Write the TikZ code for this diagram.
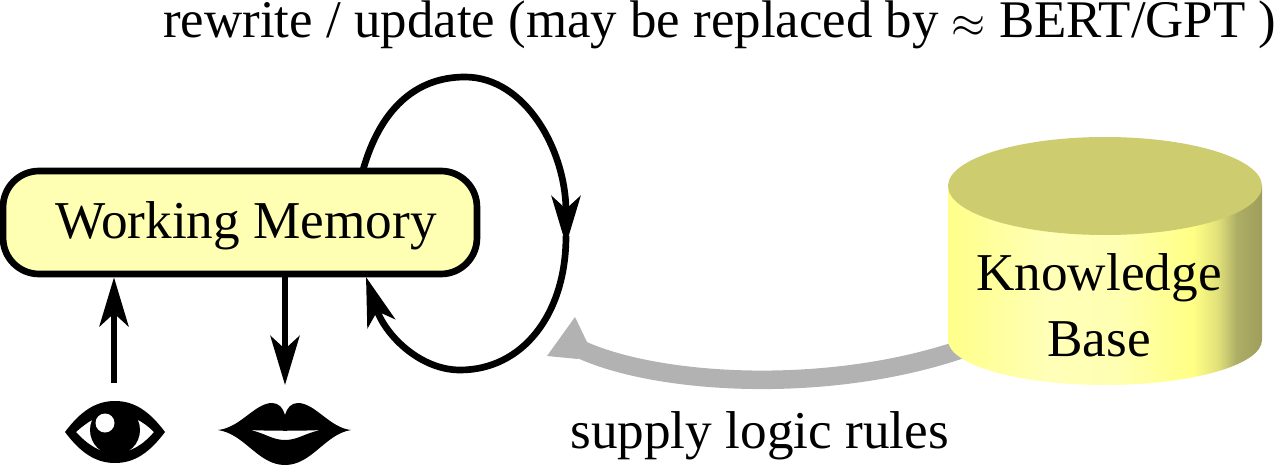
\documentclass[tikz,border=0pt]{standalone}
\usepackage{fontspec}
\setmainfont{Liberation Serif}
\usetikzlibrary{arrows.meta,backgrounds}

\definecolor{wmfill}{RGB}{255,255,180}
\definecolor{kbtopfill}{RGB}{205,205,112}
\definecolor{supplygray}{RGB}{178,178,178}
\pgfdeclarehorizontalshading{kbbody}{100bp}{
    rgb(0bp)=(1,1,.54);
    rgb(25bp)=(1,1,.54);
    rgb(29bp)=(1,1,.58);
    rgb(41bp)=(1,1,.72);
    rgb(52bp)=(1,1,.70);
    rgb(64bp)=(1,1,.52);
    rgb(68bp)=(.88,.88,.48);
    rgb(71bp)=(.68,.68,.40);
    rgb(75bp)=(.62,.62,.36);
    rgb(100bp)=(.62,.62,.36)}

\begin{document}
\begin{tikzpicture}[
            x=0.02cm, y=-0.02cm,
            txt/.style={font=\fontsize{30.3}{37.4}\selectfont, inner sep=0pt},
            toptxt/.style={font=\fontsize{30.1}{37.4}\selectfont, inner sep=0pt},
            wmbox/.style={draw, line width=3.8pt, fill=wmfill, rounded corners=0.72cm,
                minimum width=9.48cm, minimum height=2.06cm, inner sep=0pt},
            kbcyl/.style={minimum width=6.28cm, minimum height=4.98cm, inner sep=0pt, outer sep=0pt},
            sense/.style={inner sep=0pt, outer sep=0.36cm},
            flow/.style={line width=3.8pt, -{Stealth[length=0.98cm, width=0.58cm, inset=0.26cm]}},
            supply/.style={supplygray}
        ]
        \useasboundingbox (0,0) rectangle (1277,466);
        \node[wmbox, txt] (wm) at (240,222.5) {};
        \node[txt, anchor=base] (wmlabel) at (246,238) {Working Memory};
        \node[kbcyl] (kb) at (1105,260.5) {};
        \shade[shading=kbbody] (948,185) -- (948,340) arc [start angle=180, end angle=360, x radius=157, y radius=-45]
            -- (1262,185) -- cycle;
        \fill[kbtopfill] (1105,186) ellipse [x radius=157, y radius=49];
        \node[txt, align=center] (kblabel) at (1099,305) {Knowledge\\Base};
        \node[toptxt, anchor=base west] (rewrite) at (163,38) {rewrite / update (may be replaced by $\approx$ BERT/GPT )};
        \node[txt, anchor=base west] (rules) at (570,448) {supply logic rules};
        \node[sense, minimum width=2cm, minimum height=1.24cm] (eye) at (114,432) {};
        \node[sense, minimum width=2.66cm, minimum height=1.24cm] (lips) at (285,434) {};

        % senses
        \fill[even odd rule] (65,432) .. controls (80,412) and (95,401) .. (115,401)
            .. controls (135,401) and (150,412) .. (165,432)
            .. controls (150,452) and (135,463) .. (115,463)
            .. controls (95,463) and (80,452) .. (65,432) -- cycle
            (76,432) .. controls (88,421) and (100,414) .. (115,414)
            .. controls (130,414) and (143,421) .. (154,432)
            .. controls (143,445) and (130,453) .. (115,453)
            .. controls (100,453) and (88,445) .. (76,432) -- cycle;
        \fill (115,430) circle [radius=25];
        \fill[white] (105,423) circle [radius=9.5];
        \fill[even odd rule] (218,430) .. controls (240,428) and (255,403) .. (272,403)
            .. controls (279,403) and (283,408) .. (285,415)
            .. controls (287,408) and (291,403) .. (298,403)
            .. controls (315,403) and (330,428) .. (351,430)
            .. controls (325,434) and (312,465) .. (285,465)
            .. controls (258,465) and (245,434) .. (218,430) -- cycle
            (250,430) .. controls (265,433) and (272,440) .. (285,440)
            .. controls (298,440) and (305,433) .. (321,430)
            .. controls (300,431) and (270,431) .. (250,430) -- cycle;

        \draw[flow] (eye.north) -- (eye.north |- wm.south);
        \draw[flow] (lips.north |- wm.south) -- (lips.north);

        % rewrite loop
        \coordinate (wmtop) at (363,170);
        \coordinate (loopmid) at (566,245);
        \coordinate (loopnext) at (566,236);
        \coordinate (wmbot) at (366,277);
        \draw[flow] (wmtop) .. controls (380,110) and (415,77) .. (465,77)
            .. controls (525,77) and (566,150) .. (loopmid);
        \draw[flow] (loopnext) .. controls (566,315) and (522,370) .. (460,370)
            .. controls (420,370) and (385,335) .. (wmbot);

        % supply arrow
        \coordinate (supplytip) at (547,356);
        \coordinate (supplybarb) at (575,317);
        \coordinate (supplyup) at (587,342);
        \coordinate (supplylow) at (578,359);
        \coordinate (supplyend) at (582,350);
        \begin{scope}[on background layer]
            \draw[supply, line width=0.37cm] ([xshift=0.34cm, yshift=-1.75cm]kb.west) .. controls (830,395) and (660,385) .. (supplyend);
        \end{scope}
        \fill[supply] (supplytip) -- (supplybarb) -- (supplyup) -- (supplylow) -- cycle;
    \end{tikzpicture}
\end{document}
